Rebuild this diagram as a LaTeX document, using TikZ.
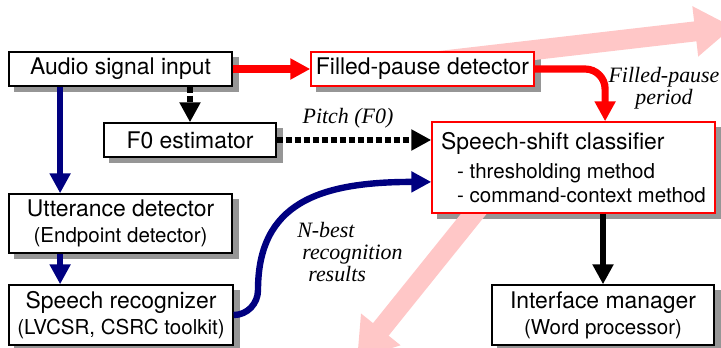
\documentclass[tikz,border=0pt]{standalone}
\usepackage{fontspec}
\setmainfont{TeX Gyre Heros}
\newfontfamily\lblfont{Liberation Serif}
\usetikzlibrary{arrows.meta,backgrounds}
\definecolor{navy}{RGB}{0,0,128}
\definecolor{shadowgray}{RGB}{150,150,150}
\newcommand\mainsz{\fontsize{16.3}{17.5}\selectfont}
\newcommand\subsz{\fontsize{14.6}{16}\selectfont}
\tikzset{
  box/.style={draw, line width=1pt, fill=white, inner sep=0pt,
    minimum height=0.85cm, align=center, font=\mainsz},
  redbox/.style={box, draw=red},
  lbl/.style={font=\lblfont\itshape\fontsize{15.6}{15.4}\selectfont, inner sep=0pt},
  tip/.style={-{Triangle[length=0.5cm,width=0.5cm]}},
  flow/.style={tip, line width=0.16cm},
  pinkarrow/.style={red!22, line width=0.5cm, -{Triangle[length=0.95cm,width=1.2cm]}}
}
\begin{document}
\begin{tikzpicture}
    \useasboundingbox (0,0) rectangle (18.025,8.675);
    % processing blocks
    \node[box, minimum width=5.575cm] (audio) at (3.0125,6.95) {Audio signal input};
    \node[redbox, minimum width=5.575cm] (fp) at (10.5625,6.95) {Filled-pause detector};
    \node[box, minimum width=4.3cm] (f0) at (4.75,5.175) {F0 estimator};
    \node[redbox, minimum width=7.075cm, minimum height=2.275cm, align=left] (cls) at (14.3375,4.4875)
        {Speech-shift classifier\\[3pt]
         \hspace*{0.4cm}{\subsz - thresholding method}\\
         \hspace*{0.4cm}{\subsz - command-context method}};
    \node[box, minimum width=5.575cm, minimum height=1.475cm] (utter) at (3.0125,3.0875)
        {Utterance detector\\[1pt]{\subsz (Endpoint detector)}};
    \node[box, minimum width=5.6cm, minimum height=1.5cm] (recog) at (3.025,0.8)
        {Speech recognizer\\[1pt]{\subsz (LVCSR, CSRC toolkit)}};
    \node[box, minimum width=5.55cm, minimum height=1.5cm] (iface) at (15.075,0.8)
        {Interface manager\\[1pt]{\subsz (Word processor)}};

    % shadows and the big pale arrows go behind the blocks
    \begin{pgfonlayer}{background}
        \foreach \n in {audio,fp,f0,cls,utter,recog,iface}
            \fill[shadowgray] ([xshift=0.15cm,yshift=-0.14cm]\n.south west)
                rectangle ([xshift=0.15cm,yshift=-0.14cm]\n.north east);
        \draw[pinkarrow] (10.55,7.1) -- (18.325,8.0);
        \draw[pinkarrow] (12.725,4.425) -- (8.925,-0.3);
    \end{pgfonlayer}

    % connections
    \draw[flow, red, line width=0.18cm] (audio.east) -- (fp.west);
    \draw[flow, red, line width=0.18cm, rounded corners=0.5cm]
        (fp.east) -| ([xshift=0.79cm]cls.north);
    \draw[flow, dash pattern=on 0.15cm off 0.075cm] (f0.north |- audio.south) -- (f0.north);
    \draw[flow, dash pattern=on 0.15cm off 0.075cm] (f0.east) -- (f0.east -| cls.west)
        node[lbl, midway, above=0.22cm, xshift=-0.15cm] (pitch) {Pitch (F0)};
    \draw[flow, navy] ([xshift=-1.51cm]audio.south) -- ([xshift=-1.51cm]utter.north);
    \draw[flow, navy] ([xshift=-1.51cm]utter.south) -- ([xshift=-1.51cm]utter.south |- recog.north);
    \coordinate (nbturn) at (6.45,1.425);
    \draw[flow, navy] (recog.east) to[out=0,in=-90] (nbturn)
        .. controls +(0,2.175) and +(-2.8,0) .. ([yshift=-0.36cm]cls.west);
    \draw[flow] (iface.north |- cls.south) -- (iface.north);

    % edge labels
    \node[lbl, align=center] (fplbl) at (16.6,6.475) {Filled-pause\\period};
    \node[lbl, align=left, anchor=west] (nbest) at (7.425,2.375)
        {N-best\\\hspace*{0.125cm}recognition\\\hspace*{0.275cm}results};
\end{tikzpicture}
\end{document}
